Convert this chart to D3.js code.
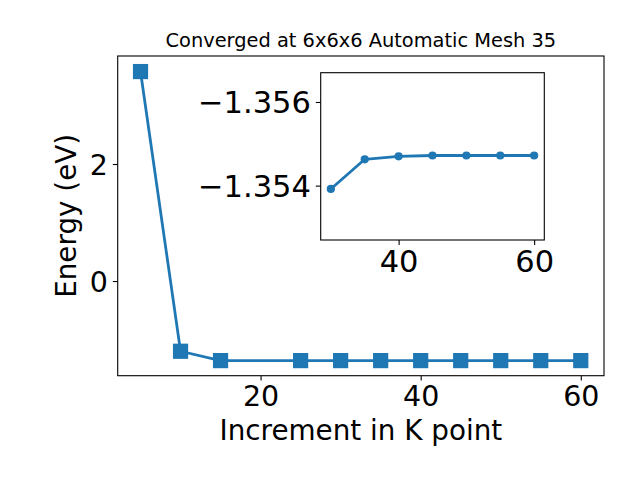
<!DOCTYPE html>
<html>
  <head>
    <meta charset="UTF-8">
    <title>K point convergence</title>
    <style>
      body {margin: 0; background: #fff}
      svg {display: block; font-family: "DejaVu Sans", sans-serif}
      .tick line {stroke: #000; stroke-width: 1.1}
      .tick text {fill: #000}
    </style>
  </head>
  <body>
    <div id="chart"></div>
    <script src="https://d3js.org/d3.v7.min.js"></script>
    <script>

// main series: energy vs k point increment
const kPoints = [5, 10, 15, 25, 30, 35, 40, 45, 50, 55, 60];
const energies = [3.58, -1.20, -1.36, -1.36, -1.36, -1.36, -1.36, -1.36, -1.36, -1.36, -1.36];

// inset zoom on the converged part
const insetK = [30, 35, 40, 45, 50, 55, 60];
const insetEnergies = [-1.35392, -1.35463, -1.35470, -1.35472, -1.35472, -1.35472, -1.35472];

const mainXTicks = [20, 40, 60];
const mainYTicks = [0, 2];
const insetXTicks = [40, 60];
const insetYTicks = [-1.356, -1.354];

const titleText = "Converged at 6x6x6 Automatic Mesh 35";
const xLabel = "Increment in K point";
const yLabel = "Energy (eV)";

const width = 640, height = 480;
const blue = "#1f77b4";
const labelFont = 27.8;
const tickFont = 28.5;
const insetTickFont = 30.5;

const svg = d3.select("#chart").append("svg")
  .attr("width", width).attr("height", height);

// main axes box
const m = {left: 117.7, right: 604, top: 56, bottom: 375.7};
const x = d3.scaleLinear().domain([2.15, 62.9]).range([m.left, m.right]);
const y = d3.scaleLinear().domain([-1.618, 3.846]).range([m.bottom, m.top]);

const gx = svg.append("g")
  .attr("transform", `translate(0,${m.bottom})`)
  .call(d3.axisBottom(x).tickValues(mainXTicks).tickSizeInner(4.9).tickSizeOuter(0).tickPadding(4.9).tickFormat(d3.format("d")));
gx.select(".domain").remove();
gx.selectAll(".tick text").attr("y", 0).attr("dy", 30).style("font-size", tickFont + "px").style("font-family", "DejaVu Sans");

const gy = svg.append("g")
  .attr("transform", `translate(${m.left},0)`)
  .call(d3.axisLeft(y).tickValues(mainYTicks).tickSizeInner(4.9).tickSizeOuter(0).tickPadding(4.9).tickFormat(d3.format("d")));
gy.select(".domain").remove();
gy.selectAll(".tick text").attr("dy", "0.36em").style("font-size", tickFont + "px").style("font-family", "DejaVu Sans");

svg.append("rect")
  .attr("x", m.left).attr("y", m.top)
  .attr("width", m.right - m.left).attr("height", m.bottom - m.top)
  .attr("fill", "none").attr("stroke", "#000").attr("stroke-width", 1.1);

const mainData = kPoints.map((k, i) => ({k: k, e: energies[i]}));

svg.append("path")
  .datum(mainData)
  .attr("fill", "none")
  .attr("stroke", blue)
  .attr("stroke-width", 2.78)
  .attr("stroke-linejoin", "round")
  .attr("d", d3.line().x(d => x(d.k)).y(d => y(d.e)));

const sq = 13.9;
svg.selectAll("rect.mk").data(mainData).join("rect")
  .attr("class", "mk")
  .attr("x", d => x(d.k) - sq / 2)
  .attr("y", d => y(d.e) - sq / 2)
  .attr("width", sq).attr("height", sq)
  .attr("fill", blue)
  .attr("stroke", blue)
  .attr("stroke-width", 1.3);

svg.append("text")
  .attr("x", (m.left + m.right) / 2)
  .attr("y", 47)
  .attr("text-anchor", "middle")
  .style("font-size", "19.4px")
  .text(titleText);

svg.append("text")
  .attr("x", (m.left + m.right) / 2)
  .attr("y", 440)
  .attr("text-anchor", "middle")
  .style("font-size", labelFont + "px")
  .text(xLabel);

svg.append("text")
  .attr("transform", `translate(76,${(m.top + m.bottom) / 2}) rotate(-90)`)
  .attr("text-anchor", "middle")
  .style("font-size", labelFont + "px")
  .text(yLabel);

// inset axes (y axis inverted)
const n = {left: 320.7, right: 544.3, top: 72.7, bottom: 240};
const xi = d3.scaleLinear().domain([28.5, 61.5]).range([n.left, n.right]);
const yi = d3.scaleLinear().domain([-1.3567, -1.3527]).range([n.top, n.bottom]);

svg.append("rect")
  .attr("x", n.left).attr("y", n.top)
  .attr("width", n.right - n.left).attr("height", n.bottom - n.top)
  .attr("fill", "#fff").attr("stroke", "#000").attr("stroke-width", 1.1);

const gxi = svg.append("g")
  .attr("transform", `translate(0,${n.bottom})`)
  .call(d3.axisBottom(xi).tickValues(insetXTicks).tickSizeInner(4.9).tickSizeOuter(0).tickPadding(4.9).tickFormat(d3.format("d")));
gxi.select(".domain").remove();
gxi.selectAll(".tick text").attr("y", 0).attr("dy", 32).style("font-size", insetTickFont + "px").style("font-family", "DejaVu Sans");

const gyi = svg.append("g")
  .attr("transform", `translate(${n.left},0)`)
  .call(d3.axisLeft(yi).tickValues(insetYTicks).tickSizeInner(4.9).tickSizeOuter(0).tickPadding(4.9).tickFormat(d3.format(".3f")));
gyi.select(".domain").remove();
gyi.selectAll(".tick text").attr("dy", "0.36em").style("font-size", insetTickFont + "px").style("font-family", "DejaVu Sans");

const insetData = insetK.map((k, i) => ({k: k, e: insetEnergies[i]}));

svg.append("path")
  .datum(insetData)
  .attr("fill", "none")
  .attr("stroke", blue)
  .attr("stroke-width", 2.78)
  .attr("stroke-linejoin", "round")
  .attr("d", d3.line().x(d => xi(d.k)).y(d => yi(d.e)));

svg.selectAll("circle.mk").data(insetData).join("circle")
  .attr("class", "mk")
  .attr("cx", d => xi(d.k))
  .attr("cy", d => yi(d.e))
  .attr("r", 4.1)
  .attr("fill", blue);

    </script>
  </body>
</html>
